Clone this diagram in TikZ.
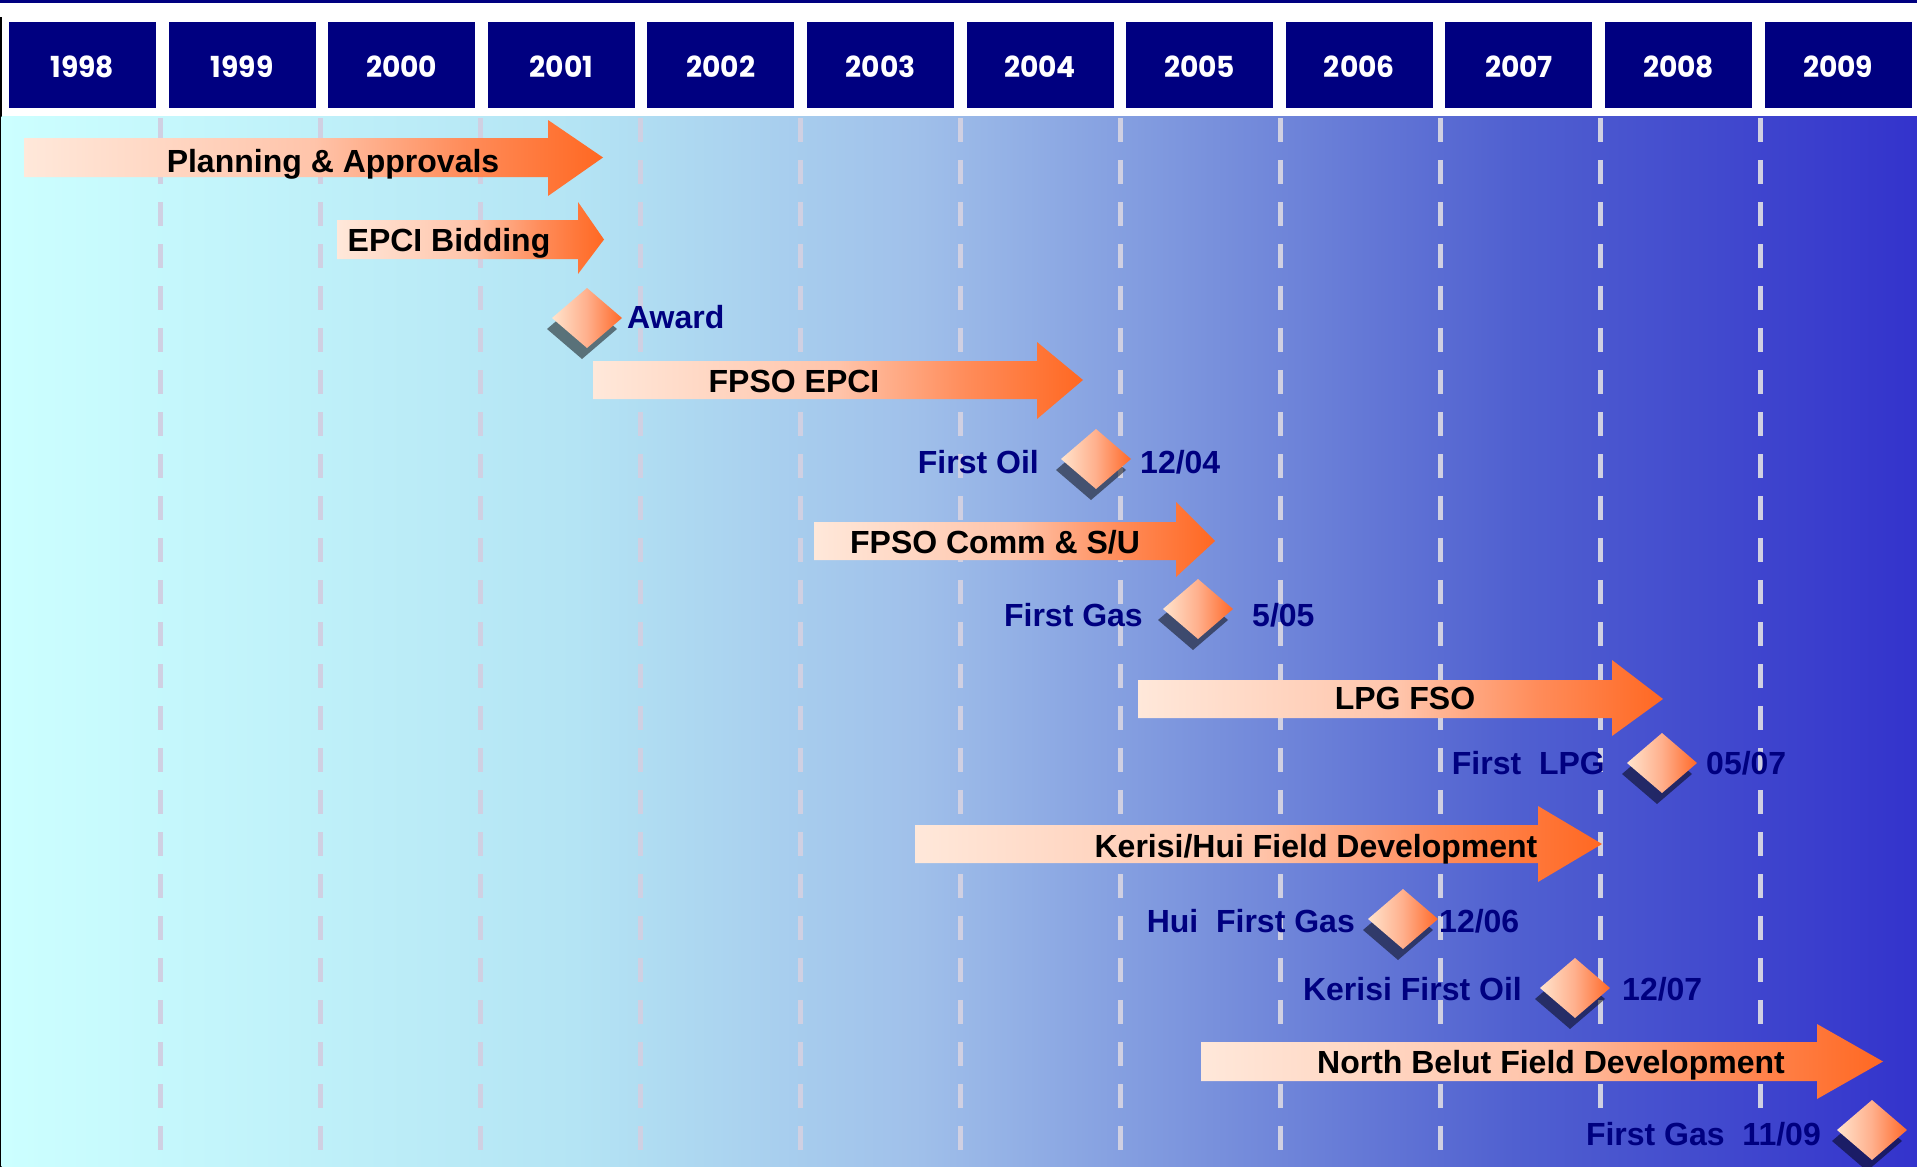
\documentclass[tikz,border=0pt]{standalone}
\usepackage{graphicx}
\usepackage{fontspec}
\setmainfont{Liberation Sans}
\newfontfamily\yearfont{Poppins}
\definecolor{navy}{RGB}{0,0,128}
\definecolor{bgA}{RGB}{204,255,255}
\definecolor{bgB}{RGB}{180,228,244}
\definecolor{bgC}{RGB}{160,192,234}
\definecolor{bgD}{RGB}{120,144,220}
\definecolor{bgE}{RGB}{80,96,208}
\definecolor{bgF}{RGB}{51,51,204}
\definecolor{arA}{RGB}{255,232,218}
\definecolor{arB}{RGB}{255,196,170}
\definecolor{arC}{RGB}{255,140,90}
\definecolor{arD}{RGB}{255,104,34}
\definecolor{dmA}{RGB}{255,228,205}
\definecolor{dmB}{RGB}{255,175,140}
\definecolor{dmC}{RGB}{255,105,40}
\definecolor{dashcol}{RGB}{208,208,226}
\pgfdeclarehorizontalshading{bgshade}{100bp}{color(0bp)=(bgA); color(25bp)=(bgA); color(40bp)=(bgB); color(48.85bp)=(bgC); color(56.7bp)=(bgD); color(64.5bp)=(bgE); color(75bp)=(bgF); color(100bp)=(bgF)}
\pgfdeclarehorizontalshading{arrshade}{100bp}{color(0bp)=(arA); color(25bp)=(arA); color(50bp)=(arB); color(63bp)=(arC); color(75bp)=(arD); color(100bp)=(arD)}
\pgfdeclarehorizontalshading{dmshade}{100bp}{color(0bp)=(dmA); color(25bp)=(dmA); color(50bp)=(dmB); color(75bp)=(dmC); color(100bp)=(dmC)}
% arrow: x0, ytop, ybot, xbase, headtop, headbot, tip
\newcommand\garrow[7]{%
  \shade[shading=arrshade] (#1,#2) -- (#4,#2) -- (#4,#5) -- (#7,{(#2+#3)/2}) -- (#4,#6) -- (#4,#3) -- (#1,#3) -- cycle;}
% milestone diamond at centre
\newcommand\mstone[2]{%
  \fill[black,opacity=0.5] ({#1-5},{#2+11-30}) -- ({#1-5+35},{#2+11}) -- ({#1-5},{#2+11+30}) -- ({#1-5-35},{#2+11}) -- cycle;
  \shade[shading=dmshade] (#1,{#2-30}) -- ({#1+35},#2) -- (#1,{#2+30}) -- ({#1-35},#2) -- cycle;}
\newcommand\yrtext[1]{\scalebox{0.97}[1]{#1}}
\begin{document}
\begin{tikzpicture}[x=1pt,y=-1pt,
  lab/.style={font=\fontsize{32}{36}\selectfont\bfseries, text=black, inner sep=0pt},
  ms/.style={font=\fontsize{32}{36}\selectfont\bfseries, text=navy, inner sep=0pt},
  yearlab/.style={font=\yearfont\bfseries\fontsize{29}{34}\selectfont, text=white, inner sep=0pt},
  dashline/.style={line width=5pt, draw=dashcol, dash pattern=on 24pt off 18pt}]
\useasboundingbox (0,0) rectangle (1917,1167);
\fill[white] (0,0) rectangle (1917,1167);
\fill[navy] (0,0) rectangle (1917,2.5);
\fill[black] (0,17) rectangle (1.5,1167);
\shade[shading=bgshade] (1.5,116) rectangle (1917,1167);
% year boxes
\foreach \yr [count=\i from 0] in {1998,1999,2000,2001,2002,2003,2004,2005,2006,2007,2008,2009}{
  \fill[navy] ({9+159.6*\i},22) rectangle ++(147,86);
  \node[yearlab, anchor=base] (y\yr) at ({82.5+159.6*\i},77) {\yrtext{\yr}};
}
% dashed year lines
\foreach \k in {1,...,9}{
  \draw[dashline] ({160*\k},118) -- ({160*\k},1167);
}
\foreach \k in {10,11}{
  \draw[dashline] ({160*\k},118) -- ({160*\k},1110);
}
% arrows
\garrow{24}{138}{177}{548}{120}{196}{603}
\garrow{337}{220}{259}{578}{202}{274}{604}
\garrow{593}{361}{399}{1037}{342}{419}{1083}
\garrow{814}{522}{560}{1176}{502}{577}{1215}
\garrow{1138}{680}{718}{1612}{660}{736}{1663}
\garrow{915}{825}{863}{1538}{806}{882}{1602}
\garrow{1201}{1042}{1081}{1817}{1024}{1099}{1883}
% arrow labels
\node[lab, anchor=base] (tPlan) at (333,172) {Planning \& Approvals};
\node[lab, anchor=base] (tBid) at (449,251) {EPCI Bidding};
\node[lab, anchor=base] (tEpci) at (794,392) {FPSO EPCI};
\node[lab, anchor=base] (tComm) at (995,553) {FPSO Comm \& S/U};
\node[lab, anchor=base] (tLpg) at (1405,709) {LPG FSO};
\node[lab, anchor=base] (tKer) at (1316,857) {Kerisi/Hui Field Development};
\node[lab, anchor=base] (tNb) at (1551,1073) {North Belut Field Development};
% milestones
\mstone{587}{318}
\mstone{1096}{459}
\mstone{1198}{609}
\mstone{1662}{763}
\mstone{1403}{919}
\mstone{1575}{988}
\mstone{1872}{1130}
\node[ms, anchor=base west] (mAward) at (627,328) {Award};
\node[ms, anchor=base east] (mOil) at (1039,473) {First Oil};
\node[ms, anchor=base west] (dOil) at (1140,473) {12/04};
\node[ms, anchor=base east] (mGas) at (1143,626) {First Gas};
\node[ms, anchor=base west] (dGas) at (1252,626) {5/05};
\node[ms, anchor=base east] (mLpg) at (1605,774) {First\ \ LPG};
\node[ms, anchor=base west] (dLpg) at (1706,774) {05/07};
\node[ms, anchor=base east] (mHui) at (1355,932) {Hui\ \ First Gas};
\node[ms, anchor=base west] (dHui) at (1439,932) {12/06};
\node[ms, anchor=base east] (mKer) at (1522,1000) {Kerisi First Oil};
\node[ms, anchor=base west] (dKer) at (1622,1000) {12/07};
\node[ms, anchor=base east] (mNb) at (1821,1145) {First Gas\ \ 11/09};
\end{tikzpicture}
\end{document}
